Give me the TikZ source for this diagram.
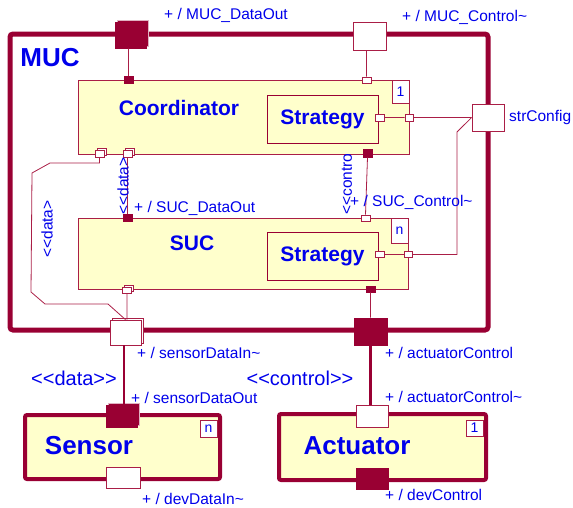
\documentclass[tikz,border=0pt]{standalone}
\usepackage{fontspec}
\setmainfont{Liberation Sans}
\usetikzlibrary{shadows}

\definecolor{mucred}{RGB}{153,0,51}
\definecolor{linered}{RGB}{170,30,70}
\definecolor{partyellow}{RGB}{255,255,204}
\definecolor{umlblue}{RGB}{0,0,235}

\begin{document}
\begin{tikzpicture}[x=1pt,y=-1pt,
    frame/.style={draw=mucred,line width=5pt,rounded corners=3pt},
    bigpart/.style={draw=mucred,line width=4pt,fill=partyellow,rounded corners=2pt,inner sep=0pt},
    part/.style={draw=linered,line width=1pt,fill=partyellow,inner sep=0pt},
    strat/.style={draw=mucred,line width=1pt,inner sep=0pt,text=umlblue,font=\bfseries\fontsize{21}{23}\selectfont},
    mult/.style={draw=linered,fill=white,line width=0.8pt,inner sep=0pt,text=umlblue,font=\fontsize{14}{14}\selectfont},
    port/.style={draw=linered,fill=white,line width=0.8pt,inner sep=0pt},
    fport/.style={draw=mucred,fill=mucred,line width=0.8pt,inner sep=0pt},
    stack/.style={general shadow={shadow xshift=2pt,shadow yshift=2pt,draw=linered,fill=white,line width=0.8pt}},
    fstack/.style={general shadow={shadow xshift=2pt,shadow yshift=2pt,draw=white!70!mucred,fill=mucred,line width=0.8pt}},
    title/.style={text=umlblue,font=\bfseries\fontsize{21}{23}\selectfont},
    bigtitle/.style={text=umlblue,font=\bfseries\fontsize{26}{28}\selectfont},
    lbl/.style={text=umlblue,font=\fontsize{15.5}{17}\selectfont,inner sep=0pt,anchor=west},
    stereo/.style={text=umlblue,font=\fontsize{20}{22}\selectfont,inner sep=0pt},
    wire/.style={draw=linered,line width=0.8pt},
    link/.style={draw=mucred,line width=2.2pt}]
    \useasboundingbox (0,0) rectangle (573,507);

    % MUC and its parts
    \node[frame,minimum width=478,minimum height=296](MUC)at(249, 182){};
    \node[bigtitle](mucLbl)at(50, 58){MUC};
    \node[part,minimum width=331,minimum height=74](Coord)at(243.5, 117){};
    \node[title](coordLbl)at(179, 108){Coordinator};
    \node[strat,minimum width=111,minimum height=48](cStrat)at(322.5, 119){Strategy};
    \node[mult,minimum width=17,minimum height=23](cMult)at(400.5, 91.5){1};
    \node[part,minimum width=330,minimum height=71](SUC)at(243, 253.5){};
    \node[title](sucLbl)at(192, 243){SUC};
    \node[strat,minimum width=111,minimum height=48](sStrat)at(322.5, 256){Strategy};
    \node[mult,minimum width=17,minimum height=25](sMult)at(399.5, 230.5){n};

    % devices
    \node[bigpart,minimum width=195,minimum height=64](Sensor)at(122.5, 447){};
    \node[bigtitle](sensorLbl)at(89, 446){Sensor};
    \node[mult,minimum width=17,minimum height=17](senMult)at(208.5, 428.5){n};
    \node[bigpart,minimum width=207,minimum height=66](Actuator)at(382.5, 447){};
    \node[bigtitle](actLbl)at(357, 446){Actuator};
    \node[mult,minimum width=17,minimum height=16](actMult)at(474.5, 428){1};

    % big ports
    \node[fport,fstack,minimum width=31,minimum height=26](mucDataOut)at(131, 35){};
    \node[port,minimum width=33,minimum height=28](mucControl)at(369.5, 36){};
    \node[port,minimum width=32,minimum height=27](strConfig)at(488, 117.5){};
    \node[port,stack,minimum width=31,minimum height=25](sensorDataIn)at(125.5, 332.5){};
    \node[fport,minimum width=33,minimum height=27](actControl)at(370.5, 331.5){};
    \node[fport,fstack,minimum width=31,minimum height=22](sensorDataOut)at(121.5, 416){};
    \node[port,minimum width=34,minimum height=21](devDataIn)at(123, 477.5){};
    \node[port,minimum width=32,minimum height=22](actControlT)at(372, 416){};
    \node[fport,minimum width=32,minimum height=21](devControl)at(372, 478.5){};

    % small ports
    \node[fport,minimum width=9,minimum height=7](cDataPort)at(128.5, 80){};
    \node[port,minimum width=9,minimum height=6](cCtrlPort)at(366.5, 80){};
    \node[port,minimum width=9,minimum height=7](cStratPort)at(379.5, 117.5){};
    \node[port,minimum width=8,minimum height=7](cRightPort)at(409, 117.5){};
    \node[port,stack,minimum width=9,minimum height=7](cBotLeft)at(99.5, 154){};
    \node[port,stack,minimum width=9,minimum height=7](cBotMid)at(127.5, 154){};
    \node[fport,minimum width=9,minimum height=8](cBotRight)at(367.5, 153){};
    \node[fport,minimum width=9,minimum height=7](sTopLeft)at(127.5, 218){};
    \node[port,minimum width=9,minimum height=6](sTopRight)at(365.5, 218){};
    \node[port,minimum width=9,minimum height=6](sStratPort)at(379.5, 254.5){};
    \node[port,minimum width=8,minimum height=6](sRightPort)at(408.5, 254.5){};
    \node[port,stack,minimum width=9,minimum height=6](sBotLeft)at(127, 290){};
    \node[fport,minimum width=9,minimum height=6](sBotRight)at(370.5, 289){};

    % connectors
    \path[wire](cDataPort.north) -- (cDataPort.north |- mucDataOut.south)
    (cCtrlPort.north) -- (cCtrlPort.north |- mucControl.south)
    (cStratPort.east) -- (cRightPort.west)
    (cRightPort.east) -- (strConfig.west)
    (strConfig.west) -- (457, 132) |- (sRightPort.east)
    (sRightPort.west) -- (sStratPort.east)
    (cBotLeft.south) |- (50, 163) -- (32, 173) -- (31, 292) -- (45, 304) -- (108, 304) -- (sensorDataIn.north)
    (cBotMid.south) -- (sTopLeft.north)
    (cBotRight.south) -- (sTopRight.north)
    (sBotLeft.south) -- (sBotLeft.south |- sensorDataIn.north)
    (sBotRight.south) -- (sBotRight.south |- actControl.north);
    \path[link](sensorDataOut.north -| 124, 0) -- (124, 0 |- sensorDataIn.south)
    (actControl.south) -- (actControl.south |- actControlT.north);

    % labels
    \node[lbl](lMucDataOut)at(164, 15){+ / MUC\_DataOut};
    \node[lbl](lMucControl)at(402, 17){+ / MUC\_Control\textasciitilde};
    \node[lbl](lStrConfig)at(509, 117){strConfig};
    \node[lbl](lSucDataOut)at(134, 208){+ / SUC\_DataOut};
    \node[lbl](lSucControl)at(350, 202){+ / SUC\_Control\textasciitilde};
    \node[lbl,rotate=90,anchor=center](lDataLeft)at(47, 229){<{}<data>};
    \node[lbl,rotate=90,anchor=center](lDataMid)at(123, 186){<{}<data>};
    \node[lbl,rotate=90,anchor=center](lCtrlMid)at(347, 184){<{}<contro};
    \node[lbl](lSensorIn)at(137, 353){+ / sensorDataIn\textasciitilde};
    \node[lbl](lActCtrl)at(385, 353){+ / actuatorControl};
    \node[stereo](lData)at(74, 378){<{}<data>{}>};
    \node[stereo](lControl)at(300, 378){<{}<control>{}>};
    \node[lbl](lSensorOut)at(131, 398){+ / sensorDataOut};
    \node[lbl](lActCtrlT)at(385, 397){+ / actuatorControl\textasciitilde};
    \node[lbl](lDevDataIn)at(142, 499){+ / devDataIn\textasciitilde};
    \node[lbl](lDevControl)at(385, 495){+ / devControl};
\end{tikzpicture}
\end{document}
